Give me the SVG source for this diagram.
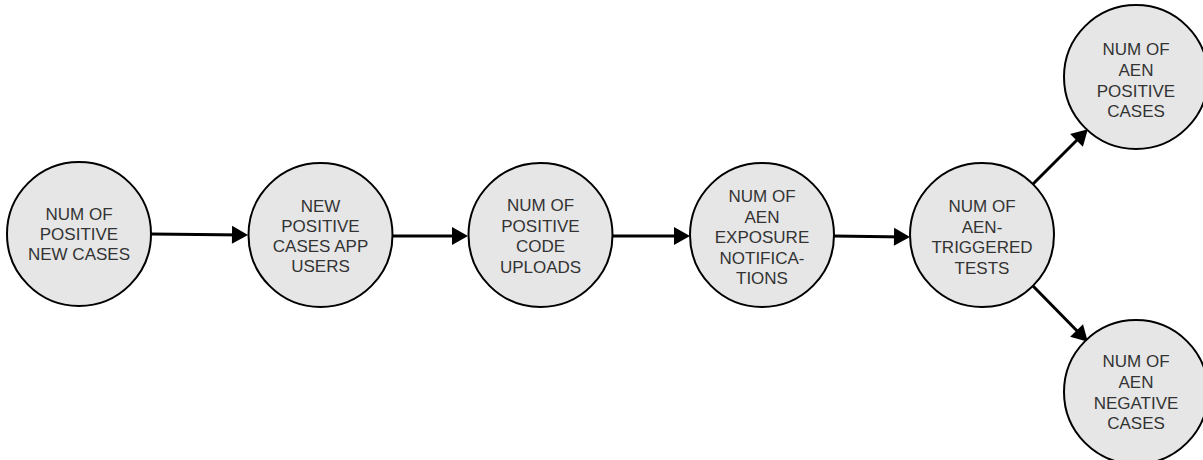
<svg xmlns="http://www.w3.org/2000/svg" width="1203" height="460" viewBox="0 0 1203 460">
<style>
.node circle{fill:#e6e6e6;stroke:#000;stroke-width:2}
.node text{font-family:"Liberation Sans",Arial,sans-serif;font-size:17px;fill:#333;text-anchor:middle}
.edge{stroke:#000;stroke-width:3;fill:none;marker-end:url(#ah)}
</style>
<defs>
<marker id="ah" markerUnits="userSpaceOnUse" markerWidth="16" markerHeight="18" refX="12" refY="9" orient="auto" overflow="visible">
<path d="M0,0 L16,9 L0,18 z" fill="#000"/>
</marker>
</defs>
<rect width="1203" height="460" fill="#fff"/>
<g id="connectors">
<path class="edge" d="M151,234 L244,235"/>
<path class="edge" d="M393,236 L464,236"/>
<path class="edge" d="M613,236 L686,236"/>
<path class="edge" d="M833,236 L906,237"/>
<path class="edge" d="M1033,184 L1085,132"/>
<path class="edge" d="M1033,286 L1085,339"/>
</g>
<g id="n1" class="node"><circle cx="79" cy="234" r="72"/>
<text x="79" y="220">NUM OF</text><text x="79" y="240">POSITIVE</text><text x="79" y="260">NEW CASES</text></g>
<g id="n2" class="node"><circle cx="320.5" cy="235" r="72"/>
<text x="320.5" y="212">NEW</text><text x="320.5" y="232">POSITIVE</text><text x="320.5" y="252">CASES APP</text><text x="320.5" y="272">USERS</text></g>
<g id="n3" class="node"><circle cx="540.5" cy="235" r="72"/>
<text x="540.5" y="211">NUM OF</text><text x="540.5" y="231.5">POSITIVE</text><text x="540.5" y="252">CODE</text><text x="540.5" y="272.5">UPLOADS</text></g>
<g id="n4" class="node"><circle cx="762" cy="235" r="72"/>
<text x="762" y="202">NUM OF</text><text x="762" y="222.5">AEN</text><text x="762" y="243">EXPOSURE</text><text x="762" y="263.5">NOTIFICA-</text><text x="762" y="284">TIONS</text></g>
<g id="n5" class="node"><circle cx="982" cy="235" r="72"/>
<text x="982" y="212">NUM OF</text><text x="982" y="232.5">AEN-</text><text x="982" y="253">TRIGGERED</text><text x="982" y="273.5">TESTS</text></g>
<g id="n6" class="node"><circle cx="1136" cy="77" r="72"/>
<text x="1136" y="55">NUM OF</text><text x="1136" y="76">AEN</text><text x="1136" y="96.5">POSITIVE</text><text x="1136" y="117">CASES</text></g>
<g id="n7" class="node"><circle cx="1136" cy="392" r="72"/>
<text x="1136" y="367">NUM OF</text><text x="1136" y="388">AEN</text><text x="1136" y="408.5">NEGATIVE</text><text x="1136" y="429">CASES</text></g>
</svg>
